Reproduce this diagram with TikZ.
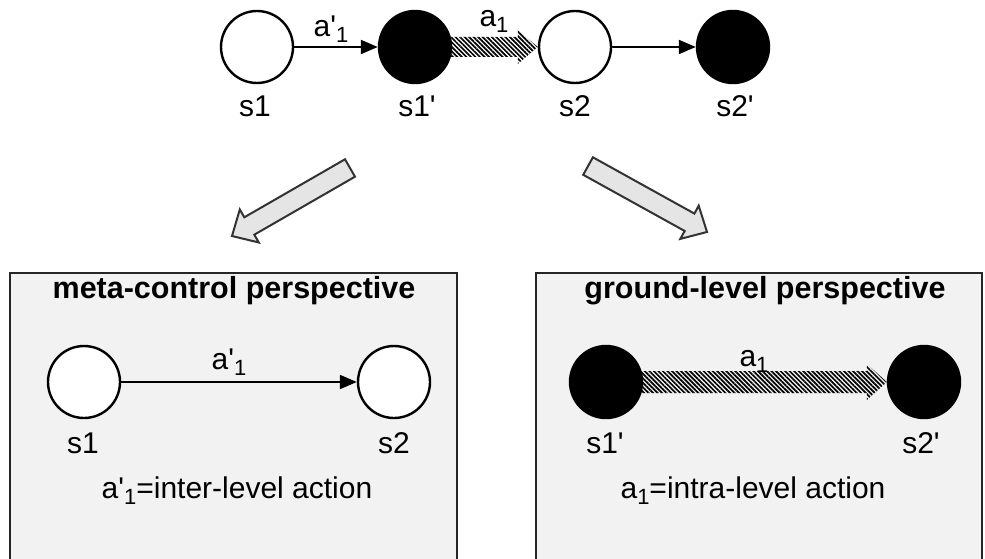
\documentclass[tikz,border=0pt]{standalone}
\usepackage{fontspec}
\setmainfont{Liberation Sans}[Ligatures=TeXOff]
\usetikzlibrary{arrows.meta,patterns.meta}
\newcommand\lowsub[1]{\raisebox{-0.2em}{\fontsize{22}{22}\selectfont #1}}
\begin{document}
\begin{tikzpicture}[x=1pt,y=-1pt,
  state/.style={circle,draw=black,line width=2.4pt,minimum size=72pt,inner sep=0pt},
  open/.style={state,fill=white},
  solid/.style={state,fill=black},
  lbl/.style={font=\fontsize{30}{32}\selectfont,inner sep=0pt},
  ttl/.style={font=\bfseries\fontsize{30.5}{32}\selectfont,inner sep=0pt},
  plain/.style={line width=2pt,-{Triangle[length=17pt,width=14pt]}},
  hatch/.style={pattern={Lines[angle=-45,distance=3.2pt,line width=1.7pt]}},
  panel/.style={fill=black!5},
  frame/.style={draw=black!85,line width=2.5pt},
  bigarrow/.style={fill=black!10,draw=black!80,line width=2pt,line join=miter}
]
\useasboundingbox (0,0) rectangle (985,559);

% panels (open at the bottom)
\fill[panel] (10,273) rectangle (457,565);
\draw[frame] (10,565) -- (10,273) -- (457,273) -- (457,565);
\fill[panel] (536,273) rectangle (982,565);
\draw[frame] (536,565) -- (536,273) -- (982,273) -- (982,565);

% top sequence
\node[open]  (s1)  at (257,47) {};
\node[solid] (s1p) at (415,47) {};
\node[open]  (s2)  at (575,47) {};
\node[solid] (s2p) at (733,47) {};
\node[lbl] (ls1)  at (255,106) {s1};
\node[lbl] (ls1p) at (417,106) {s1'};
\node[lbl] (ls2)  at (575,106) {s2};
\node[lbl] (ls2p) at (735,106) {s2'};

\draw[plain] (s1) -- (s1p);
\node[lbl] (ta1p) at (331,29) {a'\lowsub{1}};
\path[hatch] ([xshift=-6pt,yshift=10pt]s1p.east) -- ([xshift=-20pt,yshift=10pt]s2.west)
  -- ([xshift=-20pt,yshift=17pt]s2.west) -- (s2.west)
  -- ([xshift=-20pt,yshift=-17pt]s2.west) -- ([xshift=-20pt,yshift=-10pt]s2.west)
  -- ([xshift=-6pt,yshift=-10pt]s1p.east) -- cycle;
\node[lbl] (ta1) at (494,21) {a\lowsub{1}};
\draw[plain] (s2) -- (s2p);

% block arrows towards the two panels
\draw[bigarrow] (355,176.7) -- (254.3,234.7) -- (258.8,242.5) -- (232,236)
  -- (239.8,209.5) -- (244.3,217.3) -- (345,159.3) -- cycle;
\draw[bigarrow] (583.2,174.8) -- (684.7,231) -- (680.3,238.9) -- (707,232)
  -- (698.7,205.7) -- (694.4,213.6) -- (592.9,157.3) -- cycle;

% meta-control panel
\node[ttl] (tmeta) at (234,291) {meta-control perspective};
\node[open] (m1) at (84,382) {};
\node[open] (m2) at (394,382) {};
\draw[plain] (m1) -- (m2);
\node[lbl] (lma) at (229,362) {a'\lowsub{1}};
\node[lbl] (lm1) at (83,443) {s1};
\node[lbl] (lm2) at (394,443) {s2};
\node[lbl] (dm) at (237,491) {a'\lowsub{1}=inter-level action};

% ground-level panel
\node[ttl] (tground) at (765,291) {ground-level perspective};
\node[solid] (g1) at (606,382) {};
\node[solid] (g2) at (924,382) {};
\path[hatch] ([xshift=-6pt,yshift=11pt]g1.east) -- ([xshift=-20pt,yshift=11pt]g2.west)
  -- ([xshift=-20pt,yshift=18pt]g2.west) -- (g2.west)
  -- ([xshift=-20pt,yshift=-18pt]g2.west) -- ([xshift=-20pt,yshift=-11pt]g2.west)
  -- ([xshift=-6pt,yshift=-11pt]g1.east) -- cycle;
\node[lbl] (lga) at (754,361) {a\lowsub{1}};
\node[lbl] (lg1) at (605,443) {s1'};
\node[lbl] (lg2) at (921,443) {s2'};
\node[lbl] (dg) at (753,491) {a\lowsub{1}=intra-level action};
\end{tikzpicture}
\end{document}
